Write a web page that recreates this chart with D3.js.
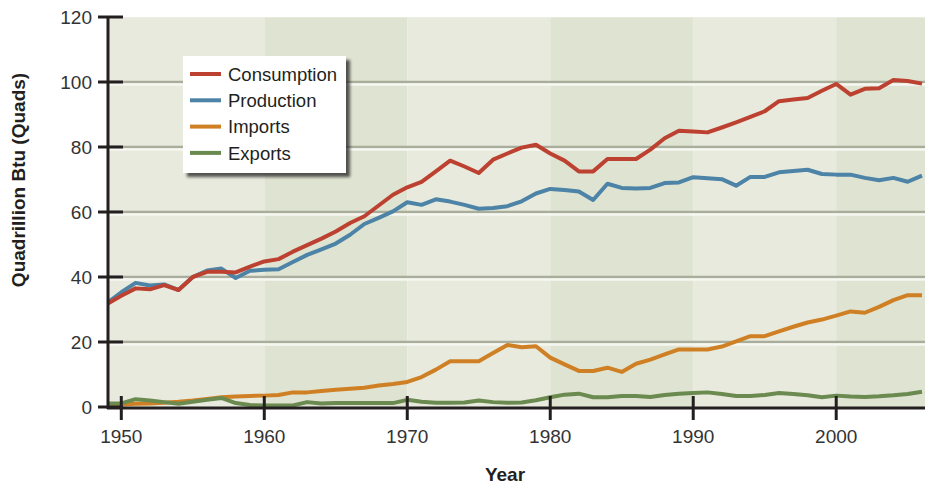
<!DOCTYPE html>
<html>
<head>
<meta charset="utf-8">
<script src="https://cdn.jsdelivr.net/npm/d3@7"></script>
<style>
    body { margin: 0; background: #ffffff; }
    text { font-family: "Liberation Sans", Arial, Helvetica, sans-serif; }
</style>
</head>
<body>
<script>
(function() {

    // yearly values, quadrillion Btu
    var years = d3.range(1949, 2007);

    var consumption = [31.7, 34.2, 36.5, 36.2, 37.5, 36.0, 40.0, 41.6, 41.6, 41.4,
        43.2, 44.8, 45.5, 47.8, 49.8, 51.8, 54.0, 56.6, 58.7, 62.0,
        65.3, 67.6, 69.3, 72.5, 75.8, 74.0, 72.0, 76.1, 78.0, 79.8,
        80.7, 78.0, 75.8, 72.5, 72.5, 76.3, 76.3, 76.3, 79.2, 82.7,
        85.0, 84.8, 84.5, 86.0, 87.6, 89.3, 91.0, 94.1, 94.6, 95.1,
        97.3, 99.4, 96.1, 97.9, 98.1, 100.6, 100.3, 99.5];

    var production = [32.0, 35.3, 38.2, 37.4, 37.7, 36.0, 40.0, 42.0, 42.6, 39.7,
        41.9, 42.2, 42.4, 44.6, 46.8, 48.5, 50.3, 53.0, 56.3, 58.2,
        60.2, 63.0, 62.2, 63.9, 63.2, 62.2, 61.0, 61.2, 61.8, 63.3,
        65.7, 67.1, 66.8, 66.3, 63.7, 68.7, 67.4, 67.2, 67.4, 68.9,
        69.1, 70.7, 70.4, 70.1, 68.1, 70.8, 70.8, 72.2, 72.6, 73.0,
        71.7, 71.5, 71.5, 70.5, 69.8, 70.5, 69.3, 71.2];

    var imports = [0.8, 0.8, 1.0, 1.1, 1.3, 1.6, 2.0, 2.5, 3.0, 3.2,
        3.4, 3.5, 3.7, 4.5, 4.5, 4.9, 5.3, 5.6, 5.9, 6.6,
        7.1, 7.7, 9.2, 11.5, 14.1, 14.1, 14.1, 16.6, 19.1, 18.4,
        18.7, 15.2, 13.1, 11.1, 11.1, 12.1, 10.8, 13.3, 14.6, 16.2,
        17.7, 17.7, 17.7, 18.6, 20.2, 21.8, 21.8, 23.3, 24.7, 26.0,
        26.9, 28.1, 29.4, 29.0, 30.8, 32.9, 34.4, 34.4];

    var exports = [1.1, 1.1, 2.4, 2.0, 1.5, 1.0, 1.6, 2.2, 2.8, 1.2,
        0.6, 0.5, 0.5, 0.5, 1.5, 1.1, 1.2, 1.2, 1.2, 1.2,
        1.2, 2.2, 1.6, 1.3, 1.3, 1.4, 2.0, 1.5, 1.3, 1.4,
        2.1, 3.0, 3.8, 4.1, 3.0, 3.0, 3.4, 3.4, 3.1, 3.7,
        4.1, 4.3, 4.5, 4.0, 3.4, 3.4, 3.7, 4.3, 4.0, 3.6,
        3.0, 3.5, 3.2, 3.1, 3.3, 3.6, 4.0, 4.7];

    var seriesNames = ["Consumption", "Production", "Imports", "Exports"];
    var seriesColors = ["#bd4131", "#4c83a6", "#d08024", "#6b8a4f"];

    var yTicks = [0, 20, 40, 60, 80, 100, 120];
    var xTicks = [1950, 1960, 1970, 1980, 1990, 2000];
    var decades = [1949, 1960, 1970, 1980, 1990, 2000, 2010];

    window.onload = setChart();

    function setChart() {

        var width = 925,
            height = 485,
            plotLeft = 108,
            plotRight = 925,
            plotTop = 17,
            plotBottom = 407;

        var svg = d3.select("body")
            .append("svg")
            .attr("width", width)
            .attr("height", height);

        var x = d3.scaleLinear()
            .domain([1949, 2006])
            .range([107, 922]);

        var y = d3.scaleLinear()
            .domain([0, 120])
            .range([plotBottom, plotTop]);

        // legend shadow filter
        var defs = svg.append("defs");
        var filter = defs.append("filter")
            .attr("id", "shadow")
            .attr("x", "-10%").attr("y", "-10%")
            .attr("width", "130%").attr("height", "130%");
        filter.append("feDropShadow")
            .attr("dx", 4).attr("dy", 4)
            .attr("stdDeviation", 1.8)
            .attr("flood-color", "#222")
            .attr("flood-opacity", 0.75);

        var clip = defs.append("clipPath").attr("id", "plotclip");
        clip.append("rect")
            .attr("x", plotLeft).attr("y", plotTop)
            .attr("width", plotRight - plotLeft)
            .attr("height", plotBottom - plotTop);

        var plot = svg.append("g").attr("clip-path", "url(#plotclip)");

        // alternating decade bands
        plot.selectAll(".band")
            .data(d3.pairs(decades))
            .enter()
            .append("rect")
            .attr("class", "band")
            .attr("x", function(d){ return x(d[0]); })
            .attr("width", function(d){ return x(d[1]) - x(d[0]); })
            .attr("y", plotTop)
            .attr("height", plotBottom - plotTop)
            .style("fill", function(d, i){
                return i % 2 == 0 ? "#e8eadd" : "#dfe3d1";
            });

        // gridlines: grey line with a white line just under it
        var grid = yTicks.filter(function(d){ return d > 0 && d < 120; });
        plot.selectAll(".gridDark")
            .data(grid)
            .enter()
            .append("line")
            .attr("x1", plotLeft).attr("x2", plotRight)
            .attr("y1", function(d){ return y(d); })
            .attr("y2", function(d){ return y(d); })
            .style("stroke", "#a9ad9c")
            .style("stroke-width", 2.5);
        plot.selectAll(".gridLight")
            .data(grid)
            .enter()
            .append("line")
            .attr("x1", plotLeft).attr("x2", plotRight)
            .attr("y1", function(d){ return y(d) + 2.5; })
            .attr("y2", function(d){ return y(d) + 2.5; })
            .style("stroke", "#f6f7f1")
            .style("stroke-width", 2.5);

        plot.append("line")
            .attr("x1", plotLeft).attr("x2", plotRight)
            .attr("y1", plotTop - 0.5).attr("y2", plotTop - 0.5)
            .style("stroke", "#f0f1ea")
            .style("stroke-width", 2);

        // lines, drawn so consumption and exports end up on top
        var allSeries = [consumption, production, imports, exports];
        var drawOrder = [2, 3, 1, 0];

        var line = d3.line()
            .x(function(d, i){ return x(years[i]); })
            .y(function(d){ return y(d); });

        plot.selectAll(".series")
            .data(drawOrder)
            .enter()
            .append("path")
            .attr("class", "series")
            .attr("d", function(k){ return line(allSeries[k]); })
            .style("fill", "none")
            .style("stroke", function(k){ return seriesColors[k]; })
            .style("stroke-width", 4)
            .style("stroke-linejoin", "round");

        // y axis
        var yAxis = svg.append("g");
        yAxis.append("line")
            .attr("x1", plotLeft).attr("x2", plotLeft)
            .attr("y1", plotTop - 1).attr("y2", plotBottom + 2)
            .style("stroke", "#231f20")
            .style("stroke-width", 3);
        yAxis.selectAll(".ytick")
            .data(yTicks)
            .enter()
            .append("line")
            .attr("x1", 98).attr("x2", 123)
            .attr("y1", function(d){ return y(d); })
            .attr("y2", function(d){ return y(d); })
            .style("stroke", "#231f20")
            .style("stroke-width", 3);
        yAxis.selectAll(".ylabel")
            .data(yTicks)
            .enter()
            .append("text")
            .attr("x", 92)
            .attr("y", function(d){ return y(d); })
            .attr("dy", "0.35em")
            .attr("text-anchor", "end")
            .style("font-size", "19px")
            .style("fill", "#333")
            .text(function(d){ return d; });

        // x axis
        var xAxis = svg.append("g");
        xAxis.append("line")
            .attr("x1", plotLeft - 1).attr("x2", plotRight)
            .attr("y1", plotBottom + 1).attr("y2", plotBottom + 1)
            .style("stroke", "#231f20")
            .style("stroke-width", 3);
        xAxis.selectAll(".xtick")
            .data(xTicks)
            .enter()
            .append("line")
            .attr("x1", function(d){ return x(d); })
            .attr("x2", function(d){ return x(d); })
            .attr("y1", 396).attr("y2", 420)
            .style("stroke", "#231f20")
            .style("stroke-width", 3);
        xAxis.selectAll(".xlabel")
            .data(xTicks)
            .enter()
            .append("text")
            .attr("x", function(d){ return x(d); })
            .attr("y", 443)
            .attr("text-anchor", "middle")
            .style("font-size", "19px")
            .style("fill", "#333")
            .text(function(d){ return d; });

        // axis titles
        svg.append("text")
            .attr("x", 505)
            .attr("y", 481)
            .attr("text-anchor", "middle")
            .style("font-size", "19px")
            .style("font-weight", "bold")
            .style("fill", "#231f20")
            .text("Year");

        svg.append("text")
            .attr("transform", "translate(25,180) rotate(-90)")
            .attr("text-anchor", "middle")
            .style("font-size", "19px")
            .style("font-weight", "bold")
            .style("fill", "#231f20")
            .text("Quadrillion Btu (Quads)");

        setLegend(svg);
    }; // setChart function


    function setLegend(svg) {
        var legend = svg.append("g")
            .attr("transform", "translate(183,56)");

        legend.append("rect")
            .attr("width", 163)
            .attr("height", 117)
            .style("fill", "#ffffff")
            .attr("filter", "url(#shadow)");

        var rows = legend.selectAll(".legendRow")
            .data(seriesNames)
            .enter()
            .append("g")
            .attr("transform", function(d, i){
                return "translate(0," + (18 + i * 26.3) + ")";
            });

        rows.append("line")
            .attr("x1", 7).attr("x2", 38)
            .attr("y1", 0).attr("y2", 0)
            .style("stroke", function(d, i){ return seriesColors[i]; })
            .style("stroke-width", 4);

        rows.append("text")
            .attr("x", 45)
            .attr("dy", "0.36em")
            .style("font-size", "18.5px")
            .style("fill", "#231f20")
            .text(function(d){ return d; });
    }; // setLegend function

})();
</script>
</body>
</html>
